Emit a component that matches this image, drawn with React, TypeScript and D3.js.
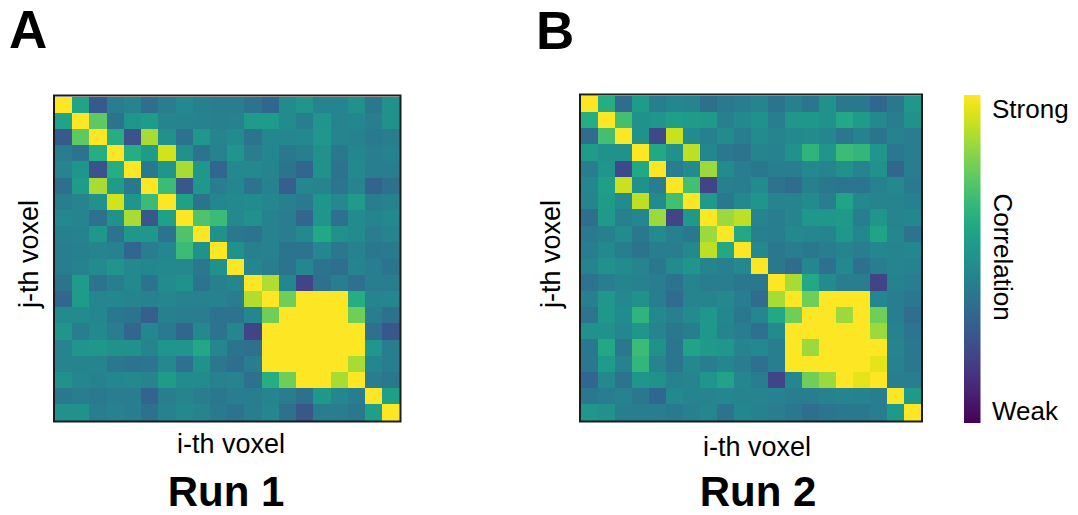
import React from "react";
import * as d3 from "d3";

// Voxel indices along both axes of each correlation matrix
const voxelIds = [0, 1, 2, 3, 4, 5, 6, 7, 8, 9, 10, 11, 12, 13, 14, 15, 16, 17, 18, 19];

// Run 1: upper triangle of the voxel-by-voxel correlation matrix (row i holds columns i..19)
const runOneUpper: number[][] = [
  [1, 0.58, 0.28, 0.42, 0.45, 0.36, 0.42, 0.47, 0.43, 0.42, 0.42, 0.38, 0.33, 0.48, 0.52, 0.45, 0.45, 0.5, 0.4, 0.5],
  [1, 0.75, 0.38, 0.52, 0.55, 0.45, 0.45, 0.44, 0.43, 0.44, 0.55, 0.55, 0.48, 0.42, 0.52, 0.45, 0.46, 0.42, 0.5],
  [1, 0.62, 0.25, 0.87, 0.5, 0.37, 0.53, 0.45, 0.48, 0.38, 0.46, 0.46, 0.47, 0.53, 0.45, 0.44, 0.41, 0.42],
  [1, 0.62, 0.55, 0.93, 0.5, 0.38, 0.44, 0.52, 0.42, 0.46, 0.4, 0.42, 0.5, 0.4, 0.46, 0.42, 0.44],
  [1, 0.4, 0.52, 0.87, 0.53, 0.33, 0.47, 0.47, 0.45, 0.38, 0.33, 0.5, 0.38, 0.47, 0.42, 0.42],
  [1, 0.68, 0.27, 0.53, 0.42, 0.46, 0.38, 0.44, 0.3, 0.46, 0.45, 0.39, 0.45, 0.32, 0.37],
  [1, 0.57, 0.38, 0.46, 0.47, 0.48, 0.46, 0.43, 0.41, 0.52, 0.47, 0.55, 0.42, 0.44],
  [1, 0.72, 0.68, 0.47, 0.5, 0.44, 0.42, 0.33, 0.52, 0.37, 0.48, 0.45, 0.47],
  [1, 0.5, 0.4, 0.38, 0.44, 0.42, 0.47, 0.6, 0.5, 0.48, 0.42, 0.45],
  [1, 0.5, 0.43, 0.44, 0.38, 0.38, 0.46, 0.4, 0.44, 0.4, 0.41],
  [1, 0.46, 0.42, 0.38, 0.46, 0.38, 0.36, 0.45, 0.42, 0.38],
  [1, 0.88, 0.46, 0.2, 0.37, 0.42, 0.37, 0.42, 0.42],
  [1, 0.78, 1, 1, 1, 0.62, 0.45, 0.46],
  [1, 1, 1, 1, 0.78, 0.42, 0.37],
  [1, 1, 1, 1, 0.37, 0.27],
  [1, 1, 1, 0.53, 0.42],
  [1, 0.87, 0.46, 0.42],
  [1, 0.42, 0.4],
  [1, 0.56],
  [1],
];

// Run 2: upper triangle of the voxel-by-voxel correlation matrix
const runTwoUpper: number[][] = [
  [1, 0.62, 0.35, 0.55, 0.42, 0.46, 0.45, 0.36, 0.41, 0.42, 0.45, 0.38, 0.43, 0.39, 0.5, 0.4, 0.4, 0.33, 0.4, 0.53],
  [1, 0.7, 0.5, 0.52, 0.56, 0.55, 0.54, 0.43, 0.47, 0.5, 0.42, 0.53, 0.53, 0.5, 0.6, 0.55, 0.47, 0.42, 0.5],
  [1, 0.5, 0.22, 0.92, 0.48, 0.43, 0.48, 0.42, 0.48, 0.45, 0.47, 0.48, 0.46, 0.4, 0.44, 0.38, 0.44, 0.42],
  [1, 0.6, 0.5, 0.9, 0.46, 0.4, 0.38, 0.45, 0.44, 0.5, 0.65, 0.52, 0.68, 0.66, 0.52, 0.4, 0.42],
  [1, 0.42, 0.48, 0.85, 0.48, 0.42, 0.4, 0.42, 0.42, 0.47, 0.45, 0.5, 0.45, 0.5, 0.33, 0.42],
  [1, 0.7, 0.2, 0.43, 0.42, 0.48, 0.38, 0.35, 0.43, 0.4, 0.39, 0.39, 0.44, 0.47, 0.41],
  [1, 0.54, 0.4, 0.47, 0.52, 0.45, 0.45, 0.48, 0.42, 0.58, 0.47, 0.45, 0.45, 0.43],
  [1, 0.85, 0.9, 0.45, 0.42, 0.45, 0.53, 0.53, 0.54, 0.42, 0.52, 0.45, 0.46],
  [1, 0.6, 0.43, 0.42, 0.47, 0.46, 0.45, 0.53, 0.46, 0.58, 0.46, 0.38],
  [1, 0.47, 0.4, 0.42, 0.4, 0.42, 0.45, 0.42, 0.46, 0.45, 0.46],
  [1, 0.4, 0.35, 0.46, 0.37, 0.47, 0.37, 0.42, 0.45, 0.44],
  [1, 0.87, 0.6, 0.48, 0.42, 0.42, 0.2, 0.44, 0.42],
  [1, 0.78, 1, 1, 1, 0.46, 0.42, 0.4],
  [1, 1, 0.85, 1, 0.78, 0.42, 0.36],
  [1, 1, 1, 0.85, 0.44, 0.39],
  [1, 1, 1, 0.45, 0.4],
  [1, 0.96, 0.44, 0.4],
  [1, 0.42, 0.42],
  [1, 0.54],
  [1],
];

// Colour bar end labels
const colorbarLabels = ["Strong", "Weak"];

const FONT = "'Liberation Sans', Arial, Helvetica, sans-serif";

// Correlation matrices are symmetric: mirror the upper triangle into a full table
function fullMatrix(upper: number[][]) {
  return voxelIds.map((i) =>
    voxelIds.map((j) => (j >= i ? upper[i][j - i] : upper[j][i - j]))
  );
}

const color = d3.scaleSequential(d3.interpolateViridis).domain([0, 1]);

type HeatmapProps = {
  upper: number[][];
  x0: number;
  x1: number;
  y0: number;
  y1: number;
};

function Heatmap({ upper, x0, x1, y0, y1 }: HeatmapProps) {
  const matrix = fullMatrix(upper);
  const xs = d3.scaleBand<number>().domain(voxelIds).range([x0, x1]);
  const ys = d3.scaleBand<number>().domain(voxelIds).range([y0, y1]);
  const cells: { r: number; c: number; v: number }[] = [];
  matrix.forEach((row, r) => row.forEach((v, c) => cells.push({ r, c, v })));
  return (
    <g>
      <g shapeRendering="crispEdges">
        {cells.map((d) => (
          <rect
            key={`${d.r}-${d.c}`}
            x={xs(d.c)}
            y={ys(d.r)}
            width={xs.bandwidth() + 0.6}
            height={ys.bandwidth() + 0.6}
            fill={color(d.v)}
          />
        ))}
      </g>
      <rect
        x={x0 - 1}
        y={y0 - 1}
        width={x1 - x0 + 2}
        height={y1 - y0 + 2}
        fill="none"
        stroke="#1c1c1c"
        strokeWidth={2}
      />
    </g>
  );
}

export default function App() {
  const barX = 964;
  const barW = 16.5;
  const barTop = 95;
  const barBottom = 423;
  const stops = d3.range(0, 1.0001, 0.05);
  const barScale = d3.scaleLinear().domain([0, 1]).range([barBottom, barTop]);

  return (
    <svg
      width={1078}
      height={515}
      style={{ position: "absolute", left: 0, top: 0, background: "#fff" }}
      fontFamily={FONT}
    >
      <defs>
        <linearGradient id="viridis-bar" x1="0" y1="1" x2="0" y2="0">
          {stops.map((t) => (
            <stop key={t} offset={`${t * 100}%`} stopColor={color(t)} />
          ))}
        </linearGradient>
      </defs>

      {/* Panel letters */}
      <text x={9} y={48} fontSize={53} fontWeight="bold" fill="#000">A</text>
      <text x={536} y={49} fontSize={53} fontWeight="bold" fill="#000">B</text>

      {/* Run 1 */}
      <Heatmap upper={runOneUpper} x0={55} x1={399.5} y0={96.5} y1={420.5} />
      <text
        transform="translate(38,254) rotate(-90)"
        textAnchor="middle"
        fontSize={27}
        fill="#000"
      >
        j-th voxel
      </text>
      <text x={231} y={453} textAnchor="middle" fontSize={27} fill="#000">i-th voxel</text>
      <text x={226} y={506} textAnchor="middle" fontSize={42} fontWeight="bold" fill="#000">Run 1</text>

      {/* Run 2 */}
      <Heatmap upper={runTwoUpper} x0={581} x1={921} y0={95.5} y1={420.5} />
      <text
        transform="translate(560,254) rotate(-90)"
        textAnchor="middle"
        fontSize={27}
        fill="#000"
      >
        j-th voxel
      </text>
      <text x={757} y={456} textAnchor="middle" fontSize={27} fill="#000">i-th voxel</text>
      <text x={758} y={506} textAnchor="middle" fontSize={42} fontWeight="bold" fill="#000">Run 2</text>

      {/* Colour bar */}
      <rect
        x={barX}
        y={barScale(1)}
        width={barW}
        height={barScale(0) - barScale(1)}
        fill="url(#viridis-bar)"
      />
      <text x={992} y={118} fontSize={26} fill="#000">{colorbarLabels[0]}</text>
      <text x={992} y={420} fontSize={26} fill="#000">{colorbarLabels[1]}</text>
      <text
        transform="translate(994,257) rotate(90)"
        textAnchor="middle"
        fontSize={26}
        fill="#000"
      >
        Correlation
      </text>
    </svg>
  );
}
